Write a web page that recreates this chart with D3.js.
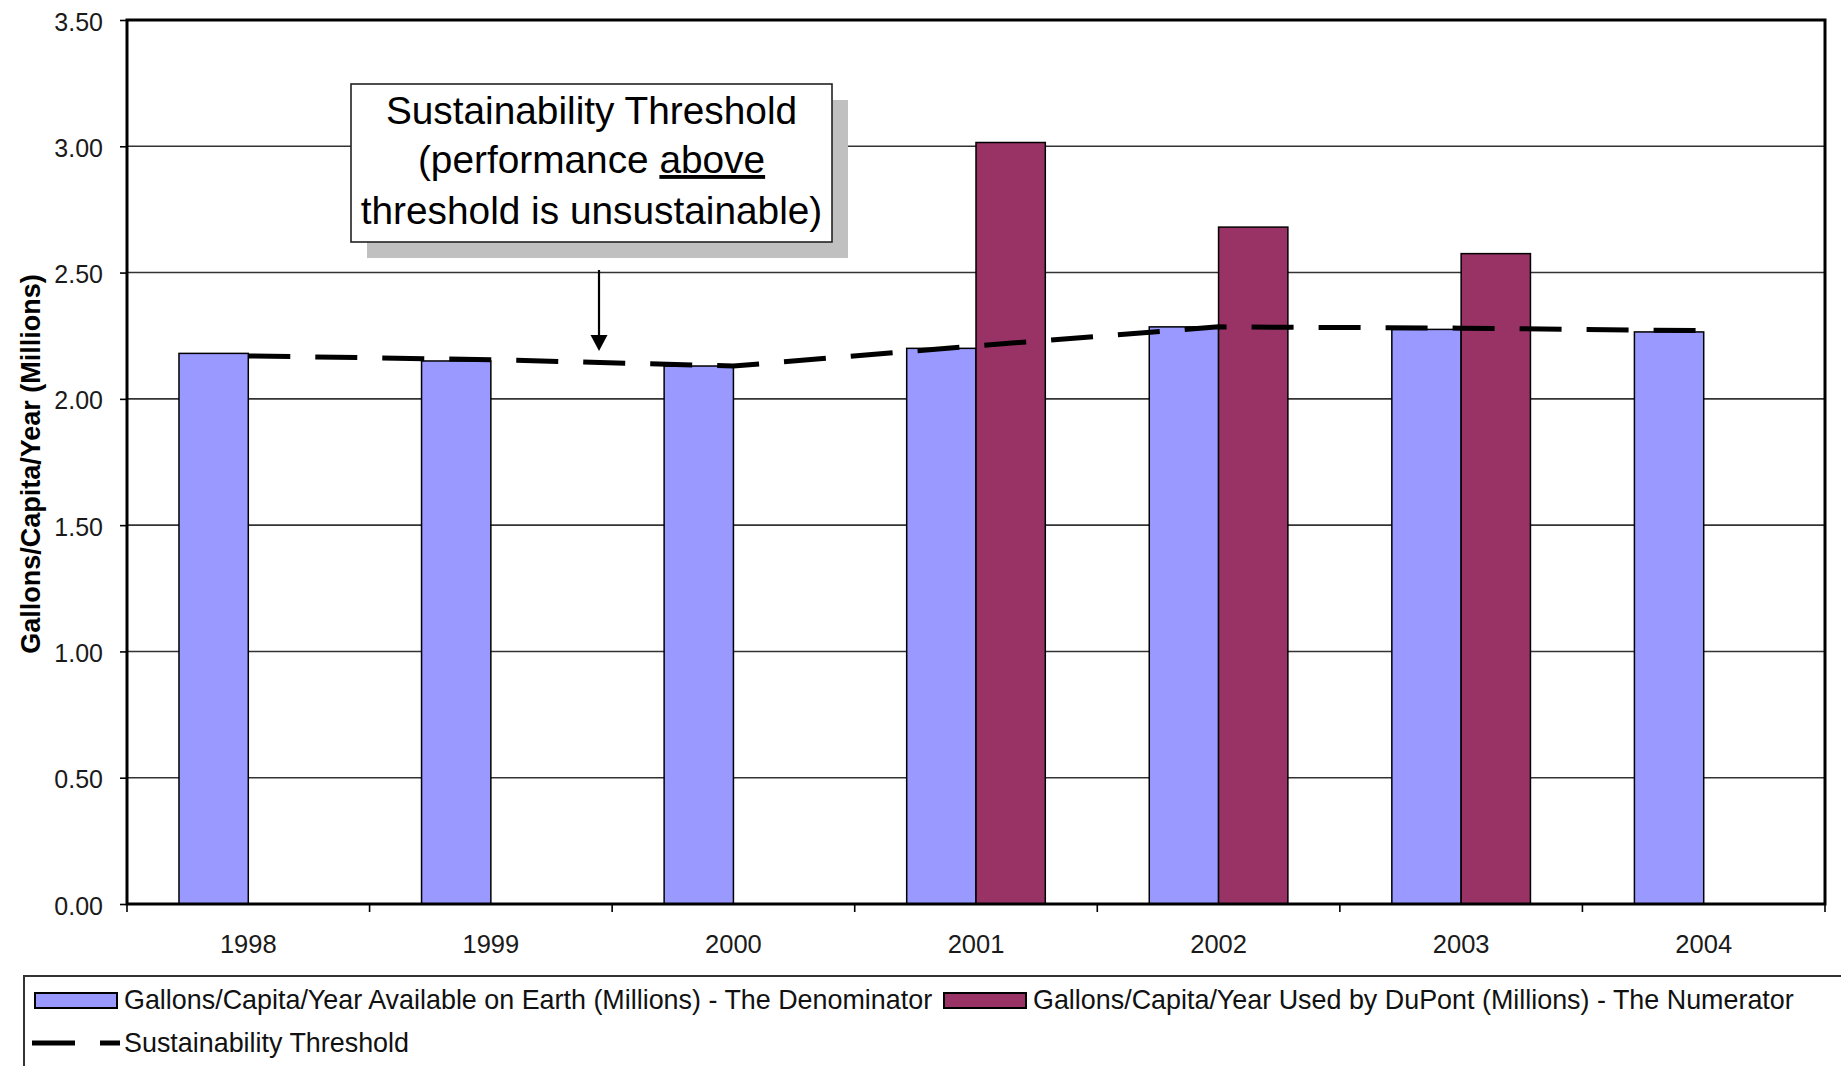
<!DOCTYPE html>
<html>
<head>
<meta charset="utf-8">
<script src="https://cdn.jsdelivr.net/npm/d3@7"></script>
<style>
  html, body { margin: 0; padding: 0; background: #fff; }
  svg { display: block; }
  text { font-family: "Liberation Sans", Arial, sans-serif; }
</style>
</head>
<body>
<svg id="chart" width="1841" height="1066"></svg>
<script>
// Water use data (millions of gallons per capita per year)
const years = ["1998", "1999", "2000", "2001", "2002", "2003", "2004"];
const available = [2.18, 2.15, 2.13, 2.20, 2.285, 2.275, 2.265];
const dupont = [null, null, null, 3.015, 2.68, 2.575, null];
const threshold = [2.17, 2.155, 2.13, 2.21, 2.285, 2.28, 2.27];
const yTicks = [0, 0.5, 1.0, 1.5, 2.0, 2.5, 3.0, 3.5];

const labelAvailable = "Gallons/Capita/Year Available on Earth (Millions) - The Denominator";
const labelDupont = "Gallons/Capita/Year Used by DuPont (Millions) - The Numerator";
const labelThreshold = "Sustainability Threshold";
const yTitle = "Gallons/Capita/Year (Millions)";

const colAvailable = "#9999ff";
const colDupont = "#993366";

const svg = d3.select("#chart");
const plot = { left: 127, right: 1825, top: 20, bottom: 904 };

const x = d3.scaleBand().domain(years).range([plot.left, plot.right]).padding(0);
const y = d3.scaleLinear().domain([0, 3.5]).range([plot.bottom, plot.top]);
const barW = x.bandwidth() / 3.5;   // two bars per category, 150% gap

// horizontal gridlines
svg.append("g").selectAll("line")
  .data(yTicks.filter(d => d > 0 && d < 3.5))
  .join("line")
  .attr("x1", plot.left).attr("x2", plot.right)
  .attr("y1", d => y(d)).attr("y2", d => y(d))
  .attr("stroke", "#333").attr("stroke-width", 1.6);

// bars
const gBars = svg.append("g");
gBars.selectAll("rect.avail")
  .data(years.map((yr, i) => ({ yr, v: available[i] })))
  .join("rect")
  .attr("class", "avail")
  .attr("x", d => x(d.yr) + x.bandwidth() / 2 - barW)
  .attr("width", barW)
  .attr("y", d => y(d.v))
  .attr("height", d => y(0) - y(d.v))
  .attr("fill", colAvailable).attr("stroke", "#000").attr("stroke-width", 1.5);

gBars.selectAll("rect.dup")
  .data(years.map((yr, i) => ({ yr, v: dupont[i] })).filter(d => d.v != null))
  .join("rect")
  .attr("class", "dup")
  .attr("x", d => x(d.yr) + x.bandwidth() / 2)
  .attr("width", barW)
  .attr("y", d => y(d.v))
  .attr("height", d => y(0) - y(d.v))
  .attr("fill", colDupont).attr("stroke", "#000").attr("stroke-width", 1.5);

// threshold line
const line = d3.line()
  .x(d => x(d.yr) + x.bandwidth() / 2)
  .y(d => y(d.v));
svg.append("path")
  .datum(years.map((yr, i) => ({ yr, v: threshold[i] })))
  .attr("d", line)
  .attr("fill", "none").attr("stroke", "#000").attr("stroke-width", 5)
  .attr("stroke-dasharray", "42 25");

// y axis
const yAxis = svg.append("g")
  .attr("transform", `translate(${plot.left},0)`)
  .call(d3.axisLeft(y).tickValues(yTicks).tickFormat(d3.format(".2f")).tickSize(7).tickPadding(17));
yAxis.select(".domain").remove();
yAxis.selectAll(".tick line").attr("stroke", "#000").attr("stroke-width", 1.6);
yAxis.selectAll(".tick text")
  .attr("font-size", 25).attr("fill", "#1a1a1a").attr("dy", "0.4em")
  .style("font-family", "'Liberation Sans', Arial, sans-serif");

// x axis labels
const xAxis = svg.append("g")
  .attr("transform", `translate(0,${plot.bottom})`)
  .call(d3.axisBottom(x).tickSize(0).tickPadding(31));
xAxis.select(".domain").remove();
xAxis.selectAll(".tick text")
  .attr("font-size", 25.5).attr("fill", "#1a1a1a")
  .style("font-family", "'Liberation Sans', Arial, sans-serif");

// x tick marks at category boundaries
const bounds = years.map(yr => x(yr)).concat([x(years[years.length - 1]) + x.bandwidth()]);
svg.append("g").selectAll("line")
  .data(bounds)
  .join("line")
  .attr("x1", d => d).attr("x2", d => d)
  .attr("y1", plot.bottom).attr("y2", plot.bottom + 8)
  .attr("stroke", "#000").attr("stroke-width", 1.6);

// plot frame
svg.append("rect")
  .attr("x", plot.left).attr("y", plot.top)
  .attr("width", plot.right - plot.left).attr("height", plot.bottom - plot.top)
  .attr("fill", "none").attr("stroke", "#000").attr("stroke-width", 3);

// y axis title
svg.append("text")
  .attr("transform", `translate(40,${(plot.top + plot.bottom) / 2 + 2}) rotate(-90)`)
  .attr("text-anchor", "middle")
  .attr("font-size", 27).attr("font-weight", "bold").attr("fill", "#000")
  .text(yTitle);

// annotation callout
const note = svg.append("g");
const box = { x: 351, y: 84, w: 481, h: 158 };
note.append("rect")
  .attr("x", box.x + 16).attr("y", box.y + 16).attr("width", box.w).attr("height", box.h)
  .attr("fill", "#c0c0c0");
note.append("rect")
  .attr("x", box.x).attr("y", box.y).attr("width", box.w).attr("height", box.h)
  .attr("fill", "#fff").attr("stroke", "#222").attr("stroke-width", 1.6);
const cx = box.x + box.w / 2;
const noteText = note.append("text")
  .attr("text-anchor", "middle").attr("font-size", 38.8).attr("fill", "#000");
noteText.append("tspan").attr("x", cx).attr("y", 124).text("Sustainability Threshold");
const l2 = noteText.append("tspan").attr("x", cx).attr("y", 173);
l2.append("tspan").text("(performance ");
l2.append("tspan").style("text-decoration", "underline").text("above");
noteText.append("tspan").attr("x", cx).attr("y", 224).text("threshold is unsustainable)");

// arrow pointing at the threshold line
const arrowX = 599;
note.append("line")
  .attr("x1", arrowX).attr("x2", arrowX).attr("y1", 270).attr("y2", 338)
  .attr("stroke", "#000").attr("stroke-width", 2.2);
note.append("path")
  .attr("d", `M${arrowX - 8.5},335 L${arrowX + 8.5},335 L${arrowX},351 Z`)
  .attr("fill", "#000");

// legend
const legend = svg.append("g");
legend.append("rect")
  .attr("x", 24).attr("y", 976).attr("width", 1900).attr("height", 200)
  .attr("fill", "#fff").attr("stroke", "#333").attr("stroke-width", 2);

const legendItems = [
  { label: labelAvailable, color: colAvailable, sx: 35 },
  { label: labelDupont, color: colDupont, sx: 944 }
];
legendItems.forEach(it => {
  legend.append("rect")
    .attr("x", it.sx).attr("y", 993).attr("width", 82).attr("height", 15)
    .attr("fill", it.color).attr("stroke", "#000").attr("stroke-width", 2);
  legend.append("text")
    .attr("x", it.sx + 89).attr("y", 1009)
    .attr("font-size", 26.9).attr("fill", "#111")
    .text(it.label);
});
legend.append("line")
  .attr("x1", 32).attr("x2", 120).attr("y1", 1043).attr("y2", 1043)
  .attr("stroke", "#000").attr("stroke-width", 5).attr("stroke-dasharray", "43 25");
legend.append("text")
  .attr("x", 124).attr("y", 1052)
  .attr("font-size", 26.9).attr("fill", "#111")
  .text(labelThreshold);
</script>
</body>
</html>
